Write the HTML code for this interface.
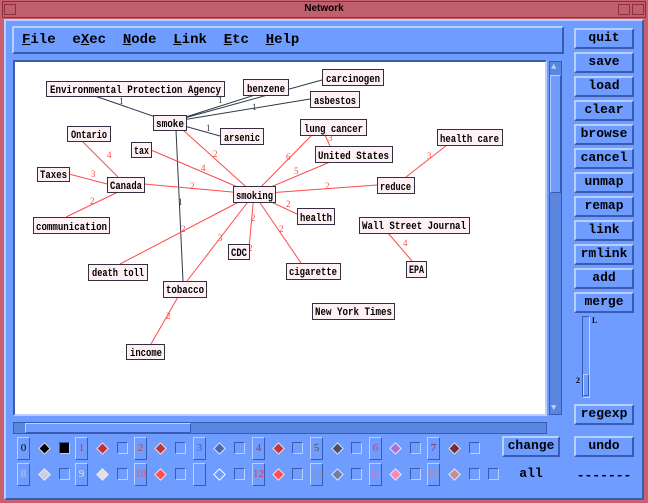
<!DOCTYPE html>
<html><head><style>
*{margin:0;padding:0;box-sizing:border-box}
body{width:648px;height:503px;overflow:hidden;background:#c8606e;position:relative;font-family:"Liberation Mono",monospace;}
.a{position:absolute}
.btn{position:absolute;background:#6f9cff;border:2px solid;border-color:#b8d0ff #3a5cb0 #3a5cb0 #b8d0ff;font:bold 13px "Liberation Mono",monospace;color:#000;text-align:center;line-height:16px}
.nb{position:absolute;width:13px;height:23px;background:#6f9cff;border:1px solid;border-color:#b8d0ff #3a5cb0 #3a5cb0 #b8d0ff;font:11px "Liberation Serif",serif;text-align:center;line-height:21px}
.sq{position:absolute;width:11px;height:12px;border:1px solid;border-color:#3a5cb0 #b8d0ff #b8d0ff #3a5cb0;background:#6f9cff}
.dm{position:absolute;width:9px;height:9px;transform:rotate(45deg);border:1px solid #e0e8ff}
</style></head><body>
<div class="a" style="left:2px;top:1px;width:644px;height:17px;background:#c0606e;border:1px solid #8a3040;"></div>
<div class="a" style="left:4px;top:4px;width:12px;height:11px;border:1px solid #8a3040"></div>
<div class="a" style="left:618px;top:4px;width:12px;height:11px;border:1px solid #8a3040"></div>
<div class="a" style="left:632px;top:4px;width:12px;height:11px;border:1px solid #8a3040"></div>
<div class="a" style="left:0;top:2px;width:648px;text-align:center;font:bold 10px 'Liberation Sans',sans-serif;line-height:14px">Network</div>
<div class="a" style="left:4px;top:19px;width:640px;height:481px;background:#6f9cff;border:2px solid;border-color:#b8d0ff #3a5cb0 #3a5cb0 #b8d0ff"></div>
<!-- menu -->
<div class="a" style="left:12px;top:26px;width:552px;height:28px;border:2px solid;border-color:#b8d0ff #3a5cb0 #3a5cb0 #b8d0ff;font:bold 14px 'Liberation Mono',monospace;line-height:24px;padding-left:8px;white-space:pre"><u>F</u>ile  e<u>X</u>ec  <u>N</u>ode  <u>L</u>ink  <u>E</u>tc  <u>H</u>elp</div>
<!-- canvas -->
<div class="a" style="left:13px;top:60px;width:534px;height:356px;border:2px solid;border-color:#3a5cb0 #b8d0ff #b8d0ff #3a5cb0;background:#fff"></div>
<!-- vscroll -->
<div class="a" style="left:549px;top:61px;width:13px;height:354px;background:#5a86e0;border:1px solid #3a5cb0"></div>
<div class="a" style="left:550px;top:75px;width:11px;height:118px;background:#6f9cff;border:1px solid;border-color:#b8d0ff #3a5cb0 #3a5cb0 #b8d0ff"></div>
<div class="a" style="left:551px;top:62px;font-size:9px;color:#b8d0ff">▲</div>
<div class="a" style="left:551px;top:403px;font-size:9px;color:#b8d0ff">▼</div>
<!-- hscroll -->
<div class="a" style="left:13px;top:422px;width:534px;height:12px;background:#5a86e0;border:1px solid #3a5cb0"></div>
<div class="a" style="left:25px;top:423px;width:166px;height:10px;background:#6f9cff;border:1px solid;border-color:#b8d0ff #3a5cb0 #3a5cb0 #b8d0ff"></div>
<!-- right buttons -->
<div class="btn" style="left:574px;top:28px;width:60px;height:21px">quit</div>
<div class="btn" style="left:574px;top:52px;width:60px;height:21px">save</div>
<div class="btn" style="left:574px;top:76px;width:60px;height:21px">load</div>
<div class="btn" style="left:574px;top:100px;width:60px;height:21px">clear</div>
<div class="btn" style="left:574px;top:124px;width:60px;height:21px">browse</div>
<div class="btn" style="left:574px;top:148px;width:60px;height:21px">cancel</div>
<div class="btn" style="left:574px;top:172px;width:60px;height:21px">unmap</div>
<div class="btn" style="left:574px;top:196px;width:60px;height:21px">remap</div>
<div class="btn" style="left:574px;top:220px;width:60px;height:21px">link</div>
<div class="btn" style="left:574px;top:244px;width:60px;height:21px">rmlink</div>
<div class="btn" style="left:574px;top:268px;width:60px;height:21px">add</div>
<div class="btn" style="left:574px;top:292px;width:60px;height:21px">merge</div>
<div class="a" style="left:582px;top:316px;width:8px;height:82px;border:1px solid;border-color:#3a5cb0 #b8d0ff #b8d0ff #3a5cb0"></div>
<div class="a" style="left:583px;top:374px;width:6px;height:22px;border:1px solid;border-color:#b8d0ff #3a5cb0 #3a5cb0 #b8d0ff"></div>
<div class="a" style="left:592px;top:316px;font:bold 8px 'Liberation Serif',serif">L</div>
<div class="a" style="left:576px;top:376px;font:bold 8px 'Liberation Serif',serif">2</div>
<div class="btn" style="left:574px;top:404px;width:60px;height:21px">regexp</div>
<div class="btn" style="left:502px;top:436px;width:58px;height:21px">change</div>
<div class="btn" style="left:574px;top:436px;width:60px;height:21px">undo</div>
<div class="a" style="left:502px;top:466px;width:58px;text-align:center;font:bold 13px 'Liberation Mono',monospace">all</div>
<div class="a" style="left:574px;top:468px;width:60px;text-align:center;font:bold 13px 'Liberation Mono',monospace">-------</div>
<!-- palette row1 -->
<div class="nb" style="left:17px;top:437px">0</div><div class="dm" style="left:40px;top:444px;background:#000"></div><div class="sq" style="left:59px;top:442px;background:#000"></div>
<div class="nb" style="left:75px;top:437px;color:#e03040">1</div><div class="dm" style="left:98px;top:444px;background:#c03040"></div><div class="sq" style="left:117px;top:442px"></div>
<div class="nb" style="left:134px;top:437px;color:#c04040">2</div><div class="dm" style="left:156px;top:444px;background:#b83840"></div><div class="sq" style="left:175px;top:442px"></div>
<div class="nb" style="left:193px;top:437px;color:#4060c0">3</div><div class="dm" style="left:215px;top:444px;background:#4a6aa8"></div><div class="sq" style="left:234px;top:442px"></div>
<div class="nb" style="left:252px;top:437px;color:#c03040">4</div><div class="dm" style="left:274px;top:444px;background:#c03848"></div><div class="sq" style="left:292px;top:442px"></div>
<div class="nb" style="left:310px;top:437px;color:#505050">5</div><div class="dm" style="left:333px;top:444px;background:#505060"></div><div class="sq" style="left:351px;top:442px"></div>
<div class="nb" style="left:369px;top:437px;color:#c04090">6</div><div class="dm" style="left:391px;top:444px;background:#b070d0"></div><div class="sq" style="left:410px;top:442px"></div>
<div class="nb" style="left:427px;top:437px;color:#803040">7</div><div class="dm" style="left:450px;top:444px;background:#703040"></div><div class="sq" style="left:469px;top:442px"></div>
<!-- row2 -->
<div class="nb" style="left:17px;top:463px;color:#c0c8e0">8</div><div class="dm" style="left:40px;top:470px;background:#c8d0e0"></div><div class="sq" style="left:59px;top:468px"></div>
<div class="nb" style="left:75px;top:463px;color:#f0e0e0">9</div><div class="dm" style="left:98px;top:470px;background:#e8e0e0"></div><div class="sq" style="left:117px;top:468px"></div>
<div class="nb" style="left:134px;top:463px;color:#ff5050">10</div><div class="dm" style="left:156px;top:470px;background:#ff5050"></div><div class="sq" style="left:175px;top:468px"></div>
<div class="nb" style="left:193px;top:463px"></div><div class="dm" style="left:215px;top:470px;background:#6f9cff;border-color:#fff"></div><div class="sq" style="left:234px;top:468px"></div>
<div class="nb" style="left:252px;top:463px;color:#ff3030">12</div><div class="dm" style="left:274px;top:470px;background:#ff5050"></div><div class="sq" style="left:292px;top:468px"></div>
<div class="nb" style="left:310px;top:463px;color:#8890b0">13</div><div class="dm" style="left:333px;top:470px;background:#7080a0"></div><div class="sq" style="left:351px;top:468px"></div>
<div class="nb" style="left:369px;top:463px;color:#ff70a0">14</div><div class="dm" style="left:391px;top:470px;background:#ff88b0"></div><div class="sq" style="left:410px;top:468px"></div>
<div class="nb" style="left:427px;top:463px;color:#d09090">15</div><div class="dm" style="left:450px;top:470px;background:#c09098"></div><div class="sq" style="left:469px;top:468px"></div><div class="sq" style="left:488px;top:468px"></div>
<!-- graph -->
<svg class="a" style="left:0;top:0" width="648" height="503">
<g stroke-width="1">
<g stroke="#303848">
<line x1="170" y1="122" x2="95" y2="96"/><line x1="170" y1="122" x2="255" y2="95"/><line x1="170" y1="122" x2="322" y2="80"/><line x1="170" y1="122" x2="310" y2="99"/><line x1="170" y1="122" x2="220" y2="136"/><line x1="176" y1="130" x2="183" y2="281"/>
</g>
<g stroke="#ff4a4a">
<line x1="183" y1="130" x2="254" y2="194"/><line x1="151" y1="150" x2="254" y2="194"/><line x1="312" y1="135" x2="254" y2="194"/><line x1="330" y1="162" x2="254" y2="194"/><line x1="144" y1="184" x2="254" y2="194"/><line x1="377" y1="185" x2="254" y2="194"/><line x1="297" y1="214" x2="254" y2="194"/><line x1="120" y1="264" x2="254" y2="194"/><line x1="187" y1="281" x2="254" y2="194"/><line x1="249" y1="248" x2="254" y2="194"/><line x1="301" y1="263" x2="254" y2="194"/>
<line x1="82" y1="141" x2="118" y2="177"/><line x1="69" y1="174" x2="107" y2="184"/><line x1="66" y1="217" x2="118" y2="192"/>
<line x1="325" y1="135" x2="330" y2="146"/><line x1="406" y1="177" x2="447" y2="145"/><line x1="388" y1="233" x2="412" y2="261"/><line x1="178" y1="297" x2="151" y2="344"/>
</g>
</g>
<g font-family="Liberation Serif,serif" font-size="9">
<g fill="#303848"><text x="119" y="104">1</text><text x="218" y="103">1</text><text x="252" y="110">1</text><text x="206" y="131">1</text><text x="178" y="205">1</text></g>
<g fill="#ff4a4a"><text x="213" y="157">2</text><text x="201" y="171">4</text><text x="286" y="160">6</text><text x="294" y="174">5</text><text x="190" y="189">2</text><text x="325" y="189">2</text><text x="286" y="207">2</text><text x="181" y="232">2</text><text x="218" y="241">3</text><text x="251" y="221">2</text><text x="279" y="232">2</text><text x="248" y="251">2</text><text x="107" y="158">4</text><text x="91" y="177">3</text><text x="90" y="204">2</text><text x="328" y="141">3</text><text x="427" y="159">3</text><text x="403" y="246">4</text><text x="166" y="319">2</text></g>
</g>
<g font-family="Liberation Mono,monospace" font-size="11" font-weight="bold" fill="#000">
<g fill="#fff0f4" stroke="#303040">
<rect x="46.5" y="81.5" width="178" height="15"/><rect x="243.5" y="79.5" width="45" height="16"/><rect x="322.5" y="69.5" width="61" height="16"/><rect x="310.5" y="91.5" width="49" height="16"/><rect x="153.5" y="115.5" width="33" height="15"/><rect x="220.5" y="128.5" width="43" height="16"/><rect x="67.5" y="126.5" width="43" height="15"/><rect x="131.5" y="142.5" width="20" height="15"/><rect x="300.5" y="119.5" width="66" height="16"/><rect x="315.5" y="146.5" width="77" height="16"/><rect x="437.5" y="129.5" width="65" height="16"/><rect x="37.5" y="167.5" width="32" height="14"/><rect x="107.5" y="177.5" width="37" height="15"/><rect x="233.5" y="186.5" width="42" height="16"/><rect x="377.5" y="177.5" width="37" height="16"/><rect x="297.5" y="208.5" width="37" height="16"/><rect x="33.5" y="217.5" width="76" height="16"/><rect x="359.5" y="217.5" width="110" height="16"/><rect x="228.5" y="244.5" width="21" height="15"/><rect x="88.5" y="264.5" width="59" height="16"/><rect x="286.5" y="263.5" width="54" height="16"/><rect x="406.5" y="261.5" width="20" height="16"/><rect x="163.5" y="281.5" width="43" height="16"/><rect x="312.5" y="303.5" width="82" height="16"/><rect x="126.5" y="344.5" width="38" height="15"/>
</g>
<text x="50" y="93" textLength="171" lengthAdjust="spacingAndGlyphs">Environmental Protection Agency</text>
<text x="247" y="92" textLength="38" lengthAdjust="spacingAndGlyphs">benzene</text>
<text x="326" y="82" textLength="54" lengthAdjust="spacingAndGlyphs">carcinogen</text>
<text x="314" y="104" textLength="42" lengthAdjust="spacingAndGlyphs">asbestos</text>
<text x="156" y="127" textLength="28" lengthAdjust="spacingAndGlyphs">smoke</text>
<text x="224" y="141" textLength="36" lengthAdjust="spacingAndGlyphs">arsenic</text>
<text x="71" y="138" textLength="36" lengthAdjust="spacingAndGlyphs">Ontario</text>
<text x="134" y="154" textLength="15" lengthAdjust="spacingAndGlyphs">tax</text>
<text x="304" y="132" textLength="59" lengthAdjust="spacingAndGlyphs">lung cancer</text>
<text x="318" y="159" textLength="71" lengthAdjust="spacingAndGlyphs">United States</text>
<text x="440" y="142" textLength="59" lengthAdjust="spacingAndGlyphs">health care</text>
<text x="40" y="178" textLength="27" lengthAdjust="spacingAndGlyphs">Taxes</text>
<text x="110" y="189" textLength="32" lengthAdjust="spacingAndGlyphs">Canada</text>
<text x="236" y="199" textLength="37" lengthAdjust="spacingAndGlyphs">smoking</text>
<text x="380" y="190" textLength="31" lengthAdjust="spacingAndGlyphs">reduce</text>
<text x="300" y="221" textLength="32" lengthAdjust="spacingAndGlyphs">health</text>
<text x="36" y="230" textLength="71" lengthAdjust="spacingAndGlyphs">communication</text>
<text x="362" y="229" textLength="104" lengthAdjust="spacingAndGlyphs">Wall Street Journal</text>
<text x="231" y="256" textLength="16" lengthAdjust="spacingAndGlyphs">CDC</text>
<text x="92" y="276" textLength="52" lengthAdjust="spacingAndGlyphs">death toll</text>
<text x="289" y="275" textLength="48" lengthAdjust="spacingAndGlyphs">cigarette</text>
<text x="409" y="273" textLength="15" lengthAdjust="spacingAndGlyphs">EPA</text>
<text x="166" y="293" textLength="38" lengthAdjust="spacingAndGlyphs">tobacco</text>
<text x="315" y="315" textLength="77" lengthAdjust="spacingAndGlyphs">New York Times</text>
<text x="130" y="356" textLength="32" lengthAdjust="spacingAndGlyphs">income</text>
</g>
</svg>
</body></html>
